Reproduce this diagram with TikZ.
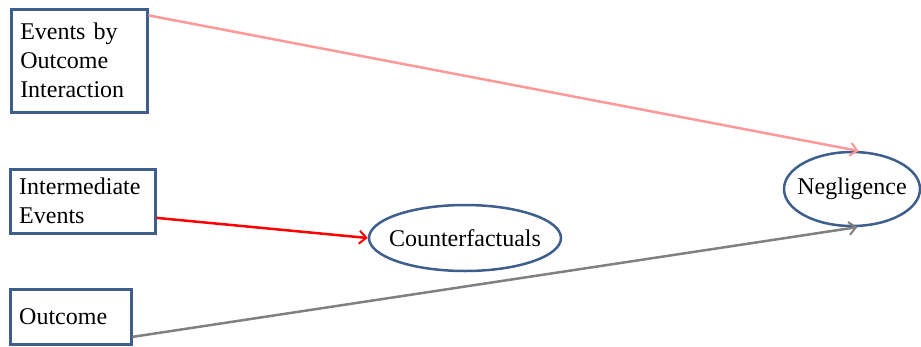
\documentclass[tikz,border=0pt]{standalone}
\usepackage{fontspec}
\setmainfont{Liberation Serif}
\usetikzlibrary{shapes.geometric,arrows.meta,calc}
\definecolor{boxblue}{HTML}{3E5F8E}
\definecolor{pinkline}{HTML}{FF9999}
\definecolor{grayline}{HTML}{808080}
\tikzset{
  box/.style={draw=boxblue, line width=2.5pt, rectangle, anchor=north west, align=left,
    inner xsep=9pt, inner ysep=0pt, font=\fontsize{24}{29}\selectfont},
  oval/.style={draw=boxblue, line width=2.5pt, ellipse, inner xsep=-10pt, inner ysep=0pt,
    font=\fontsize{24}{28}\selectfont},
  conn/.style={line width=2.5pt, -{Straight Barb[length=7pt,width=13pt,line width=2pt]}}
}
\begin{document}
\begin{tikzpicture}[x=1pt,y=-1pt]
\useasboundingbox (0,0) rectangle (921,346);
\node[box, text width=118pt, minimum height=103pt] (b1) at (10,8) {Events by\\Outcome\\Interaction};
\node[box, text width=127pt, minimum height=64pt] (b2) at (9,168) {Intermediate\\Events};
\node[box, text width=103pt, minimum height=55pt] (b3) at (9,288) {Outcome};
\node[oval, minimum width=192pt, minimum height=66pt] (cf) at (465,238) {Counterfactuals};
\node[oval, minimum width=136pt, minimum height=74pt] (neg) at (852,189) {Negligence};
\draw[conn, pinkline] ($(b1.north east)!0.07!(b1.south east)$) -- (neg.80);
\draw[conn, red] ($(b2.north east)!0.75!(b2.south east)$) -- (cf.west);
\draw[conn, grayline] ($(b3.north east)!0.85!(b3.south east)$) -- (neg.-82);
\end{tikzpicture}
\end{document}
